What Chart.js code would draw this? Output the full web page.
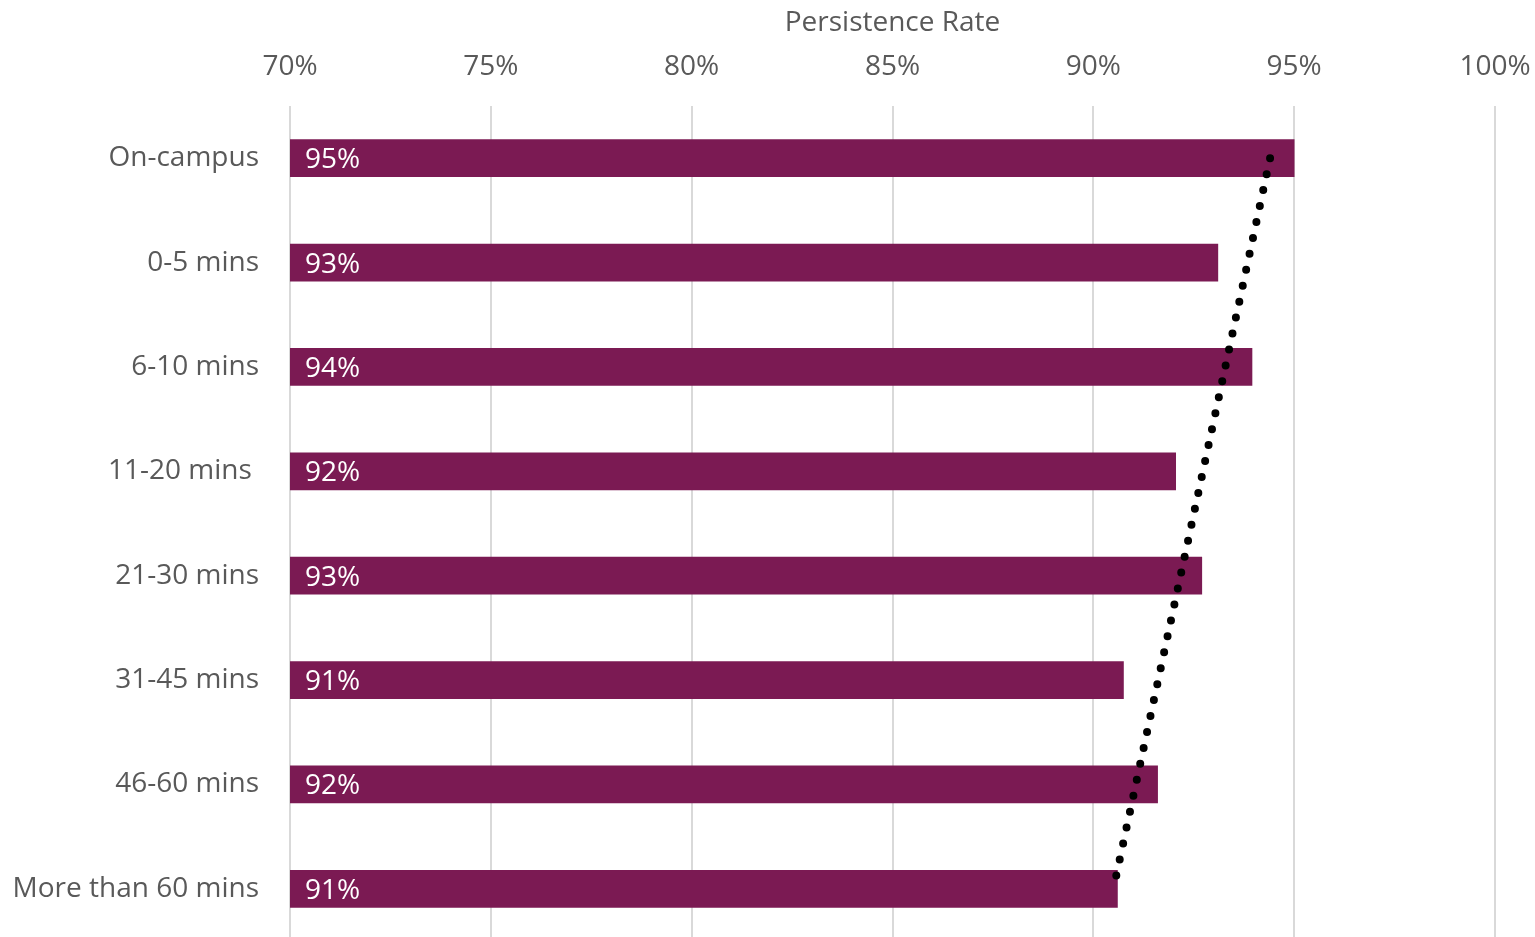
<!DOCTYPE html>
<html>
<head>
<meta charset="utf-8">
<script src="https://cdn.jsdelivr.net/npm/chart.js@4"></script>
<style>
  html, body { margin: 0; padding: 0; background: #fff; overflow: hidden; }
</style>
</head>
<body>
<canvas id="persistChart" width="1535" height="945"></canvas>
<script>
// Chart data
const categories = ["On-campus", "0-5 mins", "6-10 mins", "11-20 mins ", "21-30 mins", "31-45 mins", "46-60 mins", "More than 60 mins"];
const persistence = [95.0, 93.1, 93.95, 92.05, 92.7, 90.75, 91.6, 90.6];
// dotted trendline, read at its two ends
const trendLine = [94.4, null, null, null, null, null, null, 90.5];
const xTicks = [70, 75, 80, 85, 90, 95, 100];

const fontFamily = "'Open Sans', sans-serif";
const fontSize = 28;
const textGray = "#595959";

// white % labels at the start of each bar
const barLabels = {
    id: "barLabels",
    afterDatasetsDraw(chart) {
        const c = chart.ctx;
        const meta = chart.getDatasetMeta(1);
        const left = chart.chartArea.left;
        c.save();
        c.fillStyle = "#ffffff";
        c.font = fontSize + "px " + fontFamily;
        c.textBaseline = "middle";
        c.textAlign = "left";
        meta.data.forEach((bar, i) => {
            c.fillText(Math.round(persistence[i]) + "%", Math.max(bar.base, left) + 15, bar.y + 2);
        });
        c.restore();
    }
};

// scale paddings would shrink the plot area
function noPadding(scale) {
    scale.paddingLeft = 0;
    scale.paddingRight = 0;
    scale.paddingTop = 0;
    scale.paddingBottom = 0;
}

new Chart(document.getElementById("persistChart").getContext("2d"), {
    type: "bar",
    data: {
        labels: categories,
        datasets: [
            {
                type: "line",
                data: trendLine,
                indexAxis: "y",
                spanGaps: true,
                borderColor: "#000000",
                borderWidth: 8,
                borderDash: [0, 16.3],
                borderCapStyle: "round",
                pointRadius: 0,
                fill: false,
                order: 0,
            },
            {
                data: persistence,
                backgroundColor: "#7B1A53",
                barThickness: 37,
                order: 1,
            },
        ],
    },
    options: {
        indexAxis: "y",
        responsive: false,
        animation: false,
        devicePixelRatio: 1,
        layout: { padding: { top: 0, right: 40, bottom: 4, left: 0 } },
        scales: {
            x: {
                position: "top",
                min: 70,
                max: 100,
                afterBuildTicks: (scale) => {
                    scale.ticks = xTicks.map((v) => ({ value: v }));
                },
                afterFit: (scale) => { scale.height = 106; noPadding(scale); },
                ticks: {
                    color: textGray,
                    font: { family: fontFamily, size: fontSize },
                    padding: 22,
                    callback: (v) => v + "%",
                },
                grid: { color: "#d9d9d9", lineWidth: 2, drawTicks: false },
                border: { display: false },
                title: {
                    display: true,
                    text: "Persistence Rate",
                    color: textGray,
                    font: { family: fontFamily, size: fontSize },
                    padding: { top: 6, bottom: 0 },
                },
            },
            y: {
                afterFit: (scale) => { scale.width = 290; noPadding(scale); },
                ticks: {
                    color: textGray,
                    font: { family: fontFamily, size: fontSize },
                    padding: 23,
                },
                grid: { display: false },
                border: { display: false },
            },
        },
        plugins: {
            legend: { display: false },
            tooltip: { enabled: false },
        },
    },
    plugins: [barLabels],
});
</script>
</body>
</html>
